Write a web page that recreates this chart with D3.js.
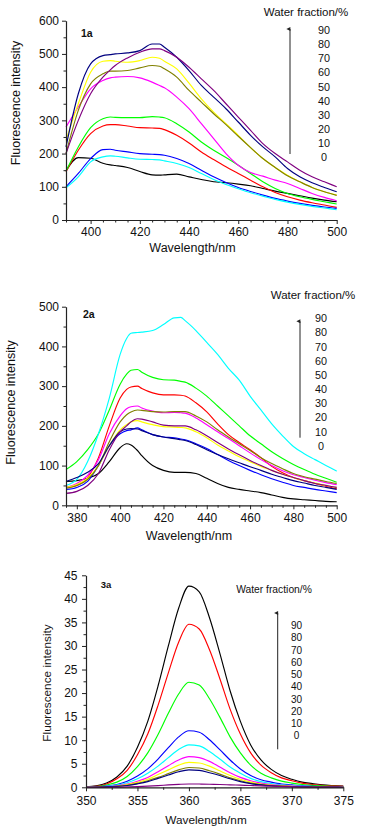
<!DOCTYPE html>
<html><head><meta charset="utf-8">
<script src="https://cdn.jsdelivr.net/npm/d3@7/dist/d3.min.js"></script>
<style>
html,body{margin:0;padding:0;background:#fff;}
svg{display:block;font-family:"Liberation Sans",Arial,sans-serif;}
</style></head>
<body>
<svg id="chart" width="374" height="834"></svg>
<script>
// ---------- data ----------
const waterFractions = [0,10,20,30,40,50,60,70,80,90];
const legendLabels = ["90","80","70","60","50","40","30","20","10","0"];
const seriesColors = ["#000000","#ff0000","#00ff00","#0000ff","#00ffff","#ff00ff","#ffff00","#808000","#000080","#800080"];

// Panel 1a
const wl1 = [390,395,400,405,408,410,415,420,425,428,430,435,440,445,450,455,460,465,470,475,480,485,490,495,500];
const p1_w0  = [148,188,186,171,166,164,158,146,136,135,136,138,130,122,115,112,108,103,95,87,80,73,66,60,55];
const p1_w10 = [145,210,260,283,287,287,283,278,277,276,272,255,232,205,182,160,140,120,100,83,70,60,52,45,38];
const p1_w20 = [147,220,278,305,310,309,308,308,311,310,308,290,265,235,210,188,165,140,115,95,80,70,62,55,48];
const p1_w30 = [100,140,185,212,213,210,205,200,198,197,195,185,170,150,130,113,98,86,75,65,57,50,44,39,35];
const p1_w40 = [97,130,175,190,193,192,187,183,182,181,178,170,158,140,122,107,94,82,72,62,54,47,41,36,31];
const p1_w50 = [280,340,395,420,428,430,432,428,415,405,398,370,335,290,245,200,165,143,132,120,110,95,80,68,58];
const p1_w60 = [240,350,445,478,480,478,475,480,490,487,478,455,412,365,325,290,255,218,185,158,135,115,98,85,75];
const p1_w70 = [200,330,410,440,448,448,450,458,465,463,455,430,390,355,320,287,252,218,185,158,133,115,98,85,74];
const p1_w80 = [220,380,470,495,498,500,503,510,530,530,520,490,450,405,370,335,295,255,220,190,155,130,112,98,85];
const p1_w90 = [200,300,380,430,452,465,488,505,515,515,510,490,460,425,390,350,310,270,230,200,175,150,130,115,100];
const xTicks1 = [400,420,440,460,480,500];
const yTicks1 = [0,100,200,300,400,500,600];

// Panel 2a
const wl2 = [375,380,385,390,395,400,403,405,408,410,415,420,425,428,430,435,440,445,450,455,460,465,470,475,480,485,490,495,500];
const p2_w0  = [60,62,68,80,110,145,155,152,138,125,100,88,83,83,83,80,68,55,45,40,36,32,26,20,16,14,12,10,9];
const p2_w10 = [45,50,70,120,200,270,292,298,300,294,283,278,278,277,275,258,235,205,178,158,140,120,98,82,70,62,55,48,42];
const p2_w20 = [90,110,140,180,240,305,330,340,342,335,322,316,315,312,310,295,275,250,225,200,175,155,135,118,103,90,78,68,58];
const p2_w30 = [40,45,60,100,150,180,188,190,195,190,178,172,170,167,165,155,143,128,113,100,88,77,67,58,50,45,40,36,32];
const p2_w40 = [50,65,110,180,270,380,420,433,435,436,440,455,472,473,465,440,410,380,345,315,275,240,205,175,148,130,115,100,86];
const p2_w50 = [45,55,75,115,180,225,243,248,250,245,237,233,234,233,232,220,203,185,168,150,132,115,100,87,77,70,63,57,52];
const p2_w60 = [45,52,68,100,150,190,203,210,213,210,203,198,197,196,195,185,170,152,137,122,110,98,88,78,70,62,56,50,45];
const p2_w70 = [43,50,65,100,160,210,228,235,240,239,236,235,236,236,236,225,210,190,172,155,138,120,105,92,80,72,66,60,55];
const p2_w80 = [60,70,83,105,150,185,192,193,192,188,178,172,168,165,163,153,140,128,117,107,97,88,78,70,62,56,50,45,40];
const p2_w90 = [30,35,50,80,140,185,200,210,218,217,210,202,200,200,200,190,175,158,142,127,113,100,88,78,70,62,55,50,45];
const xTicks2 = [380,400,420,440,460,480,500];
const yTicks2 = [0,100,200,300,400,500];

// Panel 3a
const wl3 = [350,351,352,353,354,355,356,357,358,359,360,361,362,363,364,365,366,367,368,369,370,371,372,373,374,375];
const p3_w0  = [0.1,0.3,0.9,2.2,4.5,8.5,14,21.5,30,38,42.7,41.5,36,28.5,20.5,14,9,5.8,3.8,2.5,1.7,1.1,0.8,0.5,0.35,0.25];
const p3_w10 = [0.1,0.2,0.7,1.8,3.6,6.9,11.3,17.4,24.3,30.8,34.6,33.6,29.2,23.1,16.6,11.3,7.3,4.7,3.1,2.0,1.4,0.9,0.6,0.4,0.3,0.2];
const p3_w20 = [0.05,0.15,0.5,1.1,2.3,4.4,7.3,11.2,15.7,19.8,22.3,21.7,18.8,14.9,10.7,7.3,4.7,3.0,2.0,1.3,0.9,0.6,0.4,0.3,0.2,0.15];
const p3_w30 = [0,0.1,0.25,0.6,1.3,2.4,3.9,6.0,8.4,10.7,12.0,11.7,10.1,8.0,5.8,3.9,2.5,1.6,1.1,0.7,0.5,0.3,0.2,0.15,0.1,0.1];
const p3_w40 = [0,0.06,0.2,0.46,0.95,1.8,3.0,4.5,6.3,8.0,9.0,8.8,7.6,6.0,4.3,3.0,1.9,1.2,0.8,0.5,0.36,0.23,0.17,0.1,0.07,0.05];
const p3_w50 = [0,0.05,0.14,0.33,0.68,1.3,2.1,3.3,4.6,5.8,6.5,6.3,5.5,4.3,3.1,2.1,1.4,0.9,0.6,0.4,0.26,0.17,0.12,0.08,0.05,0.04];
const p3_w60 = [0,0.04,0.11,0.27,0.56,1.05,1.7,2.7,3.7,4.7,5.3,5.15,4.5,3.5,2.5,1.7,1.1,0.7,0.47,0.31,0.21,0.14,0.1,0.06,0.04,0.03];
const p3_w70 = [0,0.03,0.09,0.22,0.44,0.83,1.4,2.1,2.9,3.7,4.2,4.1,3.5,2.8,2.0,1.4,0.9,0.57,0.37,0.25,0.17,0.11,0.08,0.05,0.03,0.02];
const p3_w80 = [0,0.03,0.08,0.19,0.39,0.74,1.2,1.9,2.6,3.3,3.7,3.6,3.1,2.5,1.8,1.2,0.78,0.5,0.33,0.22,0.15,0.1,0.07,0.04,0.03,0.02];
const p3_w90 = [0,0,0.02,0.04,0.08,0.15,0.25,0.37,0.5,0.62,0.7,0.69,0.65,0.6,0.52,0.45,0.38,0.3,0.24,0.18,0.13,0.09,0.06,0.04,0.03,0.02];
const xTicks3 = [350,355,360,365,370,375];
const yTicks3 = [0,5,10,15,20,25,30,35,40,45];

// ---------- layout options (built from the arrays) ----------
const panels = [
  {label:"1a", x:wl1, series:[p1_w0,p1_w10,p1_w20,p1_w30,p1_w40,p1_w50,p1_w60,p1_w70,p1_w80,p1_w90],
   xDom:[390,500], yDom:[0,600], xR:[66,336.7], yR:[220,20.7], xTicks:xTicks1, yTicks:yTicks1, xMinor:5, yMinor:50,
   xPad:3, yPad:3, labelPos:[81,36.5], labelSize:10.5,
   yTitle:[16,103], xTitle:[192.5,252], titleSize:12.5,
   legTitle:[306,15.5], legTitleSize:11.5, legX:324, legY0:34, legStep:14.15, legSize:10.8,
   arrow:[290,154,26]},
  {label:"2a", x:wl2, series:[p2_w0,p2_w10,p2_w20,p2_w30,p2_w40,p2_w50,p2_w60,p2_w70,p2_w80,p2_w90],
   xDom:[375,500], yDom:[0,500], xR:[66,336.7], yR:[505.3,306.7], xTicks:xTicks2, yTicks:yTicks2, xMinor:5, yMinor:50,
   xPad:4, yPad:3, labelPos:[83,318.3], labelSize:10.5,
   yTitle:[11,402.5], xTitle:[189,540], titleSize:12.5,
   legTitle:[313,299], legTitleSize:11.5, legX:321, legY0:322.3, legStep:14.15, legSize:10.8,
   arrow:[300,437.7,318.3]},
  {label:"3a", x:wl3, series:[p3_w0,p3_w10,p3_w20,p3_w30,p3_w40,p3_w50,p3_w60,p3_w70,p3_w80,p3_w90],
   xDom:[350,375], yDom:[0,45], xR:[86,343.3], yR:[787.3,575.3], xTicks:xTicks3, yTicks:yTicks3, xMinor:2.5, yMinor:2.5,
   xPad:5.5, yPad:4.5, labelPos:[100.7,587.5], labelSize:9.5,
   yTitle:[47,683], xTitle:[206,824], titleSize:11.8,
   legTitle:[274,593], legTitleSize:10.3, legX:296.5, legY0:629, legStep:12.27, legSize:10,
   arrow:[277.7,749.3,610]}
];

const svg = d3.select("#chart");
const defs = svg.append("defs");
defs.append("marker").attr("id","arr").attr("viewBox","0 0 10 10").attr("refX",5).attr("refY",9)
  .attr("markerWidth",4).attr("markerHeight",8).attr("orient","auto-start-reverse")
  .append("path").attr("d","M0,10 L5,0 L10,10 Z").attr("fill","#222");

// draw order: 0..90 as in source
panels.forEach(p => {
  const g = svg.append("g");
  const x = d3.scaleLinear().domain(p.xDom).range(p.xR);
  const y = d3.scaleLinear().domain(p.yDom).range(p.yR);

  const line = d3.line().x(d => x(d[0])).y(d => y(d[1])).curve(d3.curveMonotoneX);
  p.series.forEach((s,i) => {
    g.append("path").datum(p.x.map((w,j)=>[w,s[j]]))
      .attr("d",line).attr("fill","none").attr("stroke",seriesColors[i]).attr("stroke-width",1.15);
  });

  // minor ticks
  const xMinorVals = d3.range(p.xDom[0], p.xDom[1]+1e-9, p.xMinor).filter(v => !p.xTicks.includes(v));
  const yMinorVals = d3.range(p.yDom[0], p.yDom[1]+1e-9, p.yMinor).filter(v => !p.yTicks.includes(v));
  g.append("g").attr("transform",`translate(0,${p.yR[0]})`)
    .call(d3.axisBottom(x).tickValues(xMinorVals).tickSize(2.5).tickFormat(""))
    .call(a => a.select(".domain").remove());
  g.append("g").attr("transform",`translate(${p.xR[0]},0)`)
    .call(d3.axisLeft(y).tickValues(yMinorVals).tickSize(2.5).tickFormat(""))
    .call(a => a.select(".domain").remove());

  const xa = g.append("g").attr("transform",`translate(0,${p.yR[0]})`)
    .call(d3.axisBottom(x).tickValues(p.xTicks).tickSize(4).tickSizeOuter(0).tickPadding(p.xPad).tickFormat(d3.format("d")));
  const ya = g.append("g").attr("transform",`translate(${p.xR[0]},0)`)
    .call(d3.axisLeft(y).tickValues(p.yTicks).tickSize(4).tickSizeOuter(0).tickPadding(p.yPad).tickFormat(d3.format("d")));
  [xa,ya].forEach(a => {
    a.selectAll("text").attr("font-size",12).attr("font-family","Liberation Sans, Arial, sans-serif").attr("fill","#111");
    a.selectAll("line").attr("stroke","#222");
    a.select(".domain").attr("stroke","#222").attr("stroke-width",1.2);
  });
  g.selectAll(".tick line").attr("stroke","#222");

  g.append("text").attr("x",p.labelPos[0]).attr("y",p.labelPos[1]).attr("font-weight","bold")
    .attr("font-size",p.labelSize).attr("fill","#111").text(p.label);

  g.append("text").attr("transform",`translate(${p.yTitle[0]+4},${p.yTitle[1]}) rotate(-90)`)
    .attr("text-anchor","middle").attr("font-size",p.titleSize).attr("fill","#111").text("Fluorescence intensity");
  g.append("text").attr("x",p.xTitle[0]).attr("y",p.xTitle[1]).attr("text-anchor","middle")
    .attr("font-size",p.titleSize).attr("fill","#111").text("Wavelength/nm");

  g.append("text").attr("x",p.legTitle[0]).attr("y",p.legTitle[1]).attr("text-anchor","middle")
    .attr("font-size",p.legTitleSize).attr("fill","#111").text("Water fraction/%");
  legendLabels.forEach((t,i) => {
    g.append("text").attr("x",p.legX).attr("y",p.legY0 + i*p.legStep).attr("text-anchor","middle")
      .attr("font-size",p.legSize).attr("fill","#111").text(t);
  });
  g.append("line").attr("x1",p.arrow[0]).attr("x2",p.arrow[0]).attr("y1",p.arrow[1]).attr("y2",p.arrow[2]+3)
    .attr("stroke","#222").attr("stroke-width",1).attr("marker-end","url(#arr)");
});
</script>
</body></html>
